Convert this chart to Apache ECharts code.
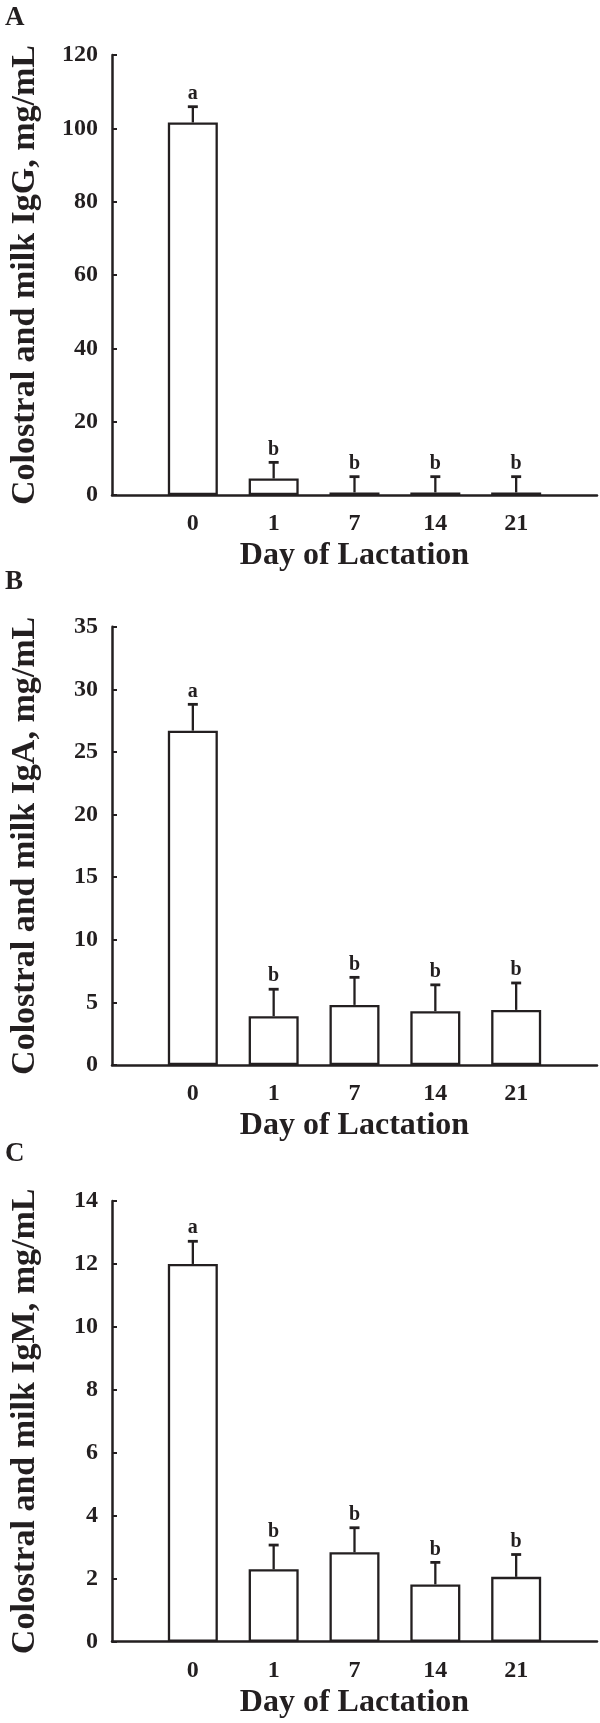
<!DOCTYPE html>
<html>
<head>
<meta charset="utf-8">
<script src="https://cdn.jsdelivr.net/npm/echarts@6/dist/echarts.min.js"></script>
<style>
html,body{margin:0;padding:0;background:#fff;}
#chart{width:600px;height:1723px;}
</style>
</head>
<body>
<div id="chart"></div>
<script>
// ---- data ----
const days = ['0', '1', '7', '14', '21'];
const igG = [101.6, 4.5, 0.7, 0.7, 0.7];
const igGErr = [4.3, 4.4, 4.3, 4.3, 4.3];
const igA = [26.7, 3.9, 4.8, 4.3, 4.4];
const igAErr = [2.1, 2.15, 2.2, 2.1, 2.15];
const igM = [12.0, 2.3, 2.84, 1.82, 2.06];
const igMErr = [0.72, 0.77, 0.78, 0.70, 0.71];
const sigLetters = ['a', 'b', 'b', 'b', 'b'];
const panelLetters = ['A', 'B', 'C'];
const yTitles = ['Colostral and milk IgG, mg/mL', 'Colostral and milk IgA, mg/mL', 'Colostral and milk IgM, mg/mL'];
const xTitle = 'Day of Lactation';
const yMax = [120, 35, 14];
const yStep = [20, 5, 2];

const INK = '#231f20';
const FONT = '"Liberation Serif", "Times New Roman", serif';

const panels = [
  {vals: igG, errs: igGErr, top: 55, bottom: 1228},
  {vals: igA, errs: igAErr, top: 626.7, bottom: 658},
  {vals: igM, errs: igMErr, top: 1201, bottom: 81.3}
];

const grid = [], xAxis = [], yAxis = [], series = [], graphic = [];
const letterY = [19, 583, 1155];

panels.forEach((p, k) => {
  grid.push({left: 105, right: 0, top: p.top, bottom: p.bottom});
  xAxis.push({
    type: 'value', gridIndex: k, min: -1, max: 5, interval: 1,
    splitLine: {show: false},
    axisLine: {show: true, onZero: false, lineStyle: {color: INK, width: 2.5}},
    axisTick: {show: false},
    axisLabel: {
      margin: 17, fontFamily: FONT, fontWeight: 'bold', fontSize: 24, color: INK,
      showMinLabel: true, showMaxLabel: true,
      formatter: v => (v >= 0 && v < days.length) ? days[v] : ''
    },
    name: xTitle, nameLocation: 'middle', nameGap: 45,
    nameTextStyle: {fontFamily: FONT, fontWeight: 'bold', fontSize: 32, color: INK}
  });
  yAxis.push({
    type: 'value', gridIndex: k, min: 0, max: yMax[k], interval: yStep[k],
    splitLine: {show: false},
    axisLine: {show: true, onZero: false, lineStyle: {color: INK, width: 2.5}},
    axisTick: {show: true, inside: true, length: 5, lineStyle: {color: INK, width: 2}},
    axisLabel: {margin: 14, fontFamily: FONT, fontWeight: 'bold', fontSize: 24, color: INK},
    name: yTitles[k], nameLocation: 'middle', nameGap: 70,
    nameTextStyle: {fontFamily: FONT, fontWeight: 'bold', fontSize: 34, color: INK}
  });
  series.push({
    type: 'bar', xAxisIndex: k, yAxisIndex: k,
    data: p.vals.map((v, i) => [i, v]),
    barWidth: 50,
    itemStyle: {color: '#ffffff', borderColor: INK, borderWidth: 2.3},
    z: 2
  });
  series.push({
    type: 'custom', xAxisIndex: k, yAxisIndex: k,
    data: p.vals.map((v, i) => [i, v, p.errs[i]]),
    z: 3,
    renderItem: function (params, api) {
      const x = api.value(0), v = api.value(1), e = api.value(2);
      const p0 = api.coord([x, v]);
      const p1 = api.coord([x, v + e]);
      return {
        type: 'group',
        children: [
          {type: 'line', shape: {x1: p0[0], y1: p0[1], x2: p1[0], y2: p1[1]},
           style: {stroke: INK, lineWidth: 2.3}},
          {type: 'line', shape: {x1: p1[0] - 5, y1: p1[1], x2: p1[0] + 5, y2: p1[1]},
           style: {stroke: INK, lineWidth: 2.8}},
          {type: 'text', x: p1[0], y: p1[1] - 3,
           style: {text: sigLetters[params.dataIndex], fill: INK, font: 'bold 20px ' + FONT,
                   align: 'center', verticalAlign: 'bottom'}}
        ]
      };
    }
  });
  graphic.push({
    type: 'text', left: 5, top: letterY[k] - 14,
    style: {text: panelLetters[k], fill: INK, font: 'bold 27px ' + FONT}
  });
});

const chart = echarts.init(document.getElementById('chart'), null, {renderer: 'canvas'});
chart.setOption({
  animation: false,
  backgroundColor: '#ffffff',
  grid, xAxis, yAxis, series, graphic
});
</script>
</body>
</html>
